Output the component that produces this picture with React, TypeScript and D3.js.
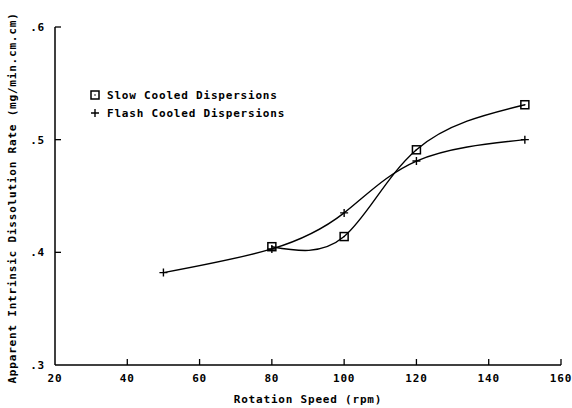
import React, { useEffect, useRef } from 'react';
import * as d3 from 'd3';

const slowSpeed = [80, 100, 120, 150];
const slowRate = [0.405, 0.414, 0.491, 0.531];
const flashSpeed = [50, 80, 100, 120, 150];
const flashRate = [0.382, 0.403, 0.435, 0.481, 0.5];
const xTicks = [20, 40, 60, 80, 100, 120, 140, 160];
const yTicks = [0.3, 0.4, 0.5, 0.6];
const yTickLabels = ['.3', '.4', '.5', '.6'];

const App = () => {
  const svgRef = useRef<SVGSVGElement>(null);

  useEffect(() => {
    const svg = d3.select(svgRef.current);
    svg.selectAll('*').remove();

    const width = 572;
    const height = 408;
    const margin = { top: 27, right: 11, bottom: 43, left: 55 };
    const font = '"DejaVu Sans Mono", monospace';

    const x = d3.scaleLinear().domain([20, 160]).range([margin.left, width - margin.right]);
    const y = d3.scaleLinear().domain([0.3, 0.6]).range([height - margin.bottom, margin.top]);

    const g = svg.append('g').attr('fill', 'none').attr('stroke', '#000');

    // axes
    g.append('line')
      .attr('x1', x(20)).attr('x2', x(160))
      .attr('y1', y(0.3)).attr('y2', y(0.3))
      .attr('stroke-width', 1.5);
    g.append('line')
      .attr('x1', x(20)).attr('x2', x(20))
      .attr('y1', y(0.3)).attr('y2', y(0.6))
      .attr('stroke-width', 1.5);

    g.selectAll('.xt')
      .data(xTicks.slice(1))
      .enter()
      .append('line')
      .attr('x1', d => x(d)).attr('x2', d => x(d))
      .attr('y1', y(0.3)).attr('y2', y(0.3) - 6)
      .attr('stroke-width', 1.3);

    g.selectAll('.yt')
      .data(yTicks.slice(1))
      .enter()
      .append('line')
      .attr('x1', x(20)).attr('x2', x(20) + 6)
      .attr('y1', d => y(d)).attr('y2', d => y(d))
      .attr('stroke-width', 1.3);

    const text = svg.append('g')
      .attr('font-family', font)
      .attr('font-size', 11)
      .attr('font-weight', 'bold')
      .attr('letter-spacing', 0.8)
      .attr('fill', '#000');

    text.selectAll('.xl')
      .data(xTicks)
      .enter()
      .append('text')
      .attr('x', d => x(d))
      .attr('y', y(0.3) + 17)
      .attr('text-anchor', 'middle')
      .text(d => d);

    text.selectAll('.yl')
      .data(yTicks)
      .enter()
      .append('text')
      .attr('x', x(20) - 10)
      .attr('y', d => y(d) + 4)
      .attr('text-anchor', 'end')
      .text((d, i) => yTickLabels[i]);

    text.append('text')
      .attr('x', (x(20) + x(160)) / 2)
      .attr('y', height - 5)
      .attr('text-anchor', 'middle')
      .text('Rotation Speed (rpm)');

    text.append('text')
      .attr('transform', `translate(16,${(y(0.3) + y(0.6)) / 2 + 2}) rotate(-90)`)
      .attr('text-anchor', 'middle')
      .text('Apparent Intrinsic Dissolution Rate (mg/min.cm.cm)');

    // curves
    const line = d3.line<number>()
      .curve(d3.curveNatural);

    const slowPts = slowSpeed.map((s, i) => [x(s), y(slowRate[i])] as [number, number]);
    const flashPts = flashSpeed.map((s, i) => [x(s), y(flashRate[i])] as [number, number]);

    g.append('path')
      .attr('d', d3.line().curve(d3.curveNatural)(slowPts))
      .attr('stroke-width', 1.4);
    g.append('path')
      .attr('d', d3.line().curve(d3.curveNatural)(flashPts))
      .attr('stroke-width', 1.4);

    const square = (sel: any, cx: number, cy: number) => {
      sel.append('rect')
        .attr('x', cx - 4).attr('y', cy - 4)
        .attr('width', 8).attr('height', 8)
        .attr('fill', 'none').attr('stroke', '#000').attr('stroke-width', 1.5);
      sel.append('circle')
        .attr('cx', cx).attr('cy', cy).attr('r', 0.8)
        .attr('fill', '#000').attr('stroke', 'none');
    };
    const plus = (sel: any, cx: number, cy: number) => {
      sel.append('path')
        .attr('d', `M${cx - 4},${cy}H${cx + 4}M${cx},${cy - 4}V${cy + 4}`)
        .attr('stroke', '#000').attr('stroke-width', 1.4);
    };

    slowPts.forEach(p => square(g, p[0], p[1]));
    flashPts.forEach(p => plus(g, p[0], p[1]));

    // legend
    square(g, 95, 95);
    plus(g, 95, 113);
    text.append('text').attr('x', 107).attr('y', 99).text('Slow Cooled Dispersions');
    text.append('text').attr('x', 107).attr('y', 117).text('Flash Cooled Dispersions');
    void line;
  }, []);

  return <svg ref={svgRef} width={572} height={408} style={{ position: 'absolute', left: 0, top: 0 }}></svg>;
};

export default App;
